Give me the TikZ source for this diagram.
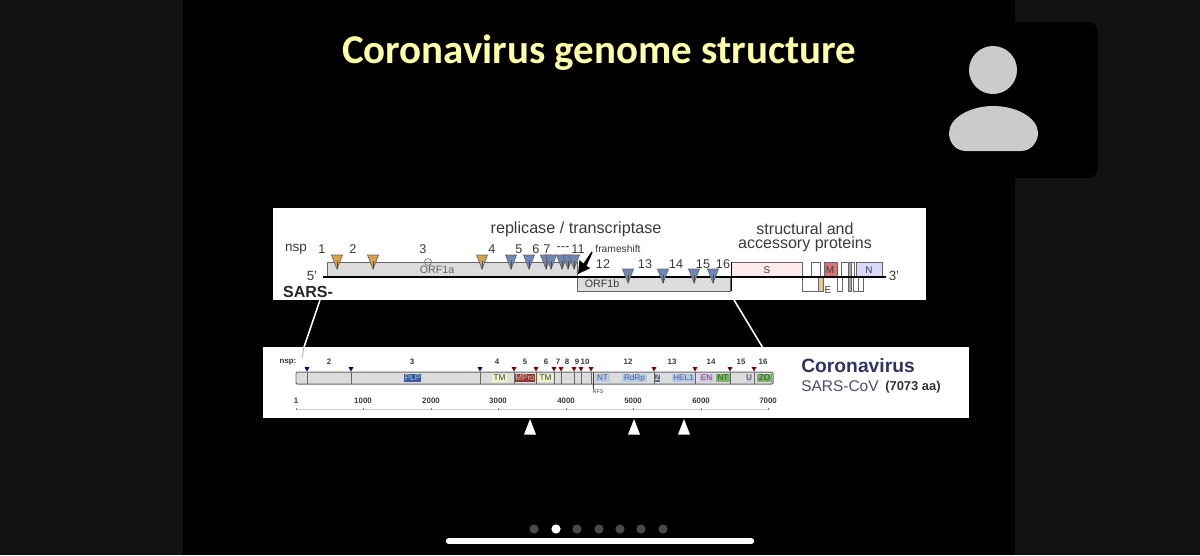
\documentclass[tikz,border=0pt]{standalone}
\usepackage{fontspec}
\setmainfont{Liberation Sans}
\newfontfamily\titlefont{Carlito}
\newcommand\fs[1]{\fontsize{#1}{#1}\selectfont}
\definecolor{bandc}{HTML}{111111}
\definecolor{inkc}{HTML}{3A3A3A}
\definecolor{orfc}{HTML}{DCDCDC}
\definecolor{edgec}{HTML}{666666}
\definecolor{orangec}{HTML}{D9A04A}
\definecolor{bluec}{HTML}{6F86B8}
\definecolor{titlec}{HTML}{FFFFA6}
\definecolor{avatarc}{HTML}{CBCBCB}
\definecolor{dotc}{HTML}{4A4A4A}
\definecolor{navyd}{HTML}{3A5A9A}
\definecolor{paled}{HTML}{B9CAE4}
\definecolor{paletxt}{HTML}{3E5E96}
\definecolor{creamd}{HTML}{F2F2C8}
\definecolor{redd}{HTML}{8C3A30}
\definecolor{redt}{HTML}{E8B8B0}
\definecolor{lilacd}{HTML}{D8C4E0}
\definecolor{lilact}{HTML}{6A3A80}
\definecolor{greend}{HTML}{7DB368}
\definecolor{greent}{HTML}{1F5A1F}
\definecolor{ud}{HTML}{C4CCDC}
\definecolor{zd}{HTML}{5A6A8A}
\tikzset{
  lbl/.style={inner sep=0pt,text=inkc,font=\fs{9}},
  lblb/.style={inner sep=0pt,text=inkc,font=\fs{5.6}\bfseries},
  gbox/.style={draw=edgec,line width=0.7pt},
  dom/.style={inner sep=0pt,font=\fs{5.8},minimum height=5.7pt,anchor=center},
  tri/.style={line width=0.5pt},
}
\begin{document}
\begin{tikzpicture}[x=0.025cm,y=-0.025cm]
\useasboundingbox (0,0) rectangle (1200,555);
% backdrop
\fill[bandc] (0,0) rectangle (1200,555);
\fill[black] (183,0) rectangle (1015,555);
\fill[black,rounded corners=0.25cm] (1000,22) rectangle (1098,178);
% title
\node[inner sep=0pt,anchor=base,text=titlec,font=\titlefont\fs{29.1}\bfseries] (title) at (599,63) {Coronavirus genome structure};
% avatar
\fill[avatarc] (993,70) circle (24);
\fill[avatarc] (966,151) .. controls (955,151) and (949,142) .. (949,133)
  .. controls (949,118) and (970,106) .. (993,106)
  .. controls (1017,106) and (1038,118) .. (1038,133)
  .. controls (1038,142) and (1031,151) .. (1021,151) -- cycle;
% panels
\fill[white] (273,208) rectangle (926,300);
\fill[white] (263,347) rectangle (969,418);
% connectors between panels
\coordinate (zoomAtop) at (320,300);
\coordinate (zoomAbot) at (304,347);
\coordinate (zoomBtop) at (734,300);
\coordinate (zoomBbot) at (763,348);
\draw[white,line width=1.1pt] (zoomAtop) -- (zoomAbot);
\draw[white,line width=1.1pt] (zoomBtop) -- (zoomBbot);
\draw[gray!60,line width=0.6pt] (zoomAbot) -- (302,358);
% === top panel ===
\node[inner sep=0pt,text=inkc,font=\fs{11.5}] (rep) at (576,229) {replicase / transcriptase};
\node[inner sep=0pt,anchor=base,text=inkc,font=\fs{11.4}] (st1) at (805,234) {structural and};
\node[inner sep=0pt,anchor=base,text=inkc,font=\fs{11.4}] (st2) at (805,248) {accessory proteins};
\filldraw[fill=orfc,gbox] (327,277) -- (327,262) -- (577,262) -- (577,277);
\filldraw[fill=orfc,gbox] (577,277) rectangle (730,291);
\filldraw[fill=red!8!white,gbox] (731,262) rectangle (802,277);
\draw[black,line width=0.7pt] (731,262) -- (731,291);
\draw[gbox,fill=white] (802,277) rectangle (818,291);
\draw[gbox,fill=orangec!60!white] (818,277) rectangle (823,291);
\draw[gbox,fill=white] (811,262) rectangle (820,277);
\draw[gbox,fill=red!55!gray!70!white] (824,262) rectangle (837,277);
\draw[gbox,fill=white] (837,277) rectangle (842,291);
\draw[gbox,fill=white] (841,262) rectangle (848,277);
\draw[gbox,fill=gray!70!white] (848,262) rectangle (851,291);
\draw[gbox,fill=white] (851,262) rectangle (854,277);
\draw[gbox,fill=white] (853,277) rectangle (858,291);
\draw[gbox,fill=white] (858,277) rectangle (863,291);
\draw[gbox,fill=blue!15!white] (856,262) rectangle (882,277);
\coordinate (geneL) at (323,277);
\coordinate (geneR) at (886,277);
\draw[black,line width=1.3pt] (geneL) -- (geneR);
\foreach \x in {337,373,482} {
  \filldraw[fill=orangec,draw=edgec,tri] (\x-5.5,255) -- (\x+5.5,255) -- (\x,269) -- cycle;
  \draw[black!70,line width=0.5pt] (\x,261) -- (\x,269);
}
\foreach \x in {511,529,546,551,562,568,574} {
  \filldraw[fill=bluec,draw=edgec,tri] (\x-5.5,255) -- (\x+5.5,255) -- (\x,269) -- cycle;
  \draw[black!70,line width=0.5pt] (\x,261) -- (\x,269);
}
\foreach \x in {628,663,694,713} {
  \filldraw[fill=bluec,draw=edgec,tri] (\x-5.5,269) -- (\x+5.5,269) -- (\x,283) -- cycle;
  \draw[black!70,line width=0.5pt] (\x,275) -- (\x,283);
}
\foreach \n/\x/\t in {tA/322/1,tB/353/2,tC/423/3,tD/492/4,tE/519/5,tF/536/6,tG/547/7,tH/563/-{}-{}-,tI/578/11}
  \node[lbl] (\n) at (\x,249) {\t};
\node[lbl,font=\fs{9.6}] (tnsp) at (296,249) {nsp};
\foreach \n/\x/\t in {tL/603/12,tM/645/13,tN/676/14,tO/703/15,tP/723/16}
  \node[lbl] (\n) at (\x,264) {\t};
\node[lbl,font=\fs{7.3}] (frame) at (618,249) {frameshift};
\coordinate (fsA) at (592,252);
\coordinate (fsB) at (578,274);
\fill[black] (fsB) -- (579.5,260) -- (583.5,263.5) -- (591.5,251.5) -- (592.7,252.2) -- (586.5,266) -- (590.5,268) -- cycle;
\node[lbl,font=\fs{7.6},text=edgec] (orfa) at (437,270) {ORF1a};
\node[lbl,font=\fs{7.6}] (orfb) at (602,284) {ORF1b};
\node[lbl,font=\fs{7}] (sname) at (767,270) {S};
\node[lbl,font=\fs{7}] (mname) at (830,270) {M};
\node[lbl,font=\fs{7}] (nname) at (869,270) {N};
\node[lbl,font=\fs{7}] (ename) at (828,290) {E};
\node[lbl,font=\fs{9.5}] (five) at (312,276) {5'};
\node[lbl,font=\fs{9.5}] (three) at (894,276) {3'};
\node[inner sep=0pt,text=black!85,font=\fs{11.4}\bfseries] (sars) at (308,292) {SARS-};
\draw[edgec,line width=0.4pt] (428,262) circle (3.5);
% === bottom panel ===
\filldraw[fill=orfc,draw=edgec,line width=0.7pt,rounded corners=0.03cm] (296,372) rectangle (773,384);
\foreach \x in {307,351,480} {
  \draw[edgec,line width=0.6pt] (\x,372) -- (\x,384);
  \fill[blue!45!black] (\x-2.5,367) -- (\x+2.5,367) -- (\x,371.5) -- cycle;
}
\foreach \x in {514,536,554,561,574,581,591,654,695,730,754} {
  \draw[edgec,line width=0.6pt] (\x,372) -- (\x,384);
  \fill[red!50!black] (\x-2.5,367) -- (\x+2.5,367) -- (\x,371.5) -- cycle;
}
\draw[black!75,line width=0.7pt] (593,372) -- (593,389);
\node[inner sep=0pt,text=inkc,font=\fs{3.8}] (rfs) at (598,392) {RFS};
\foreach \n/\xa/\xb/\t/\fc/\tc in {
  dPLP/404/421/PLP/navyd/paled,
  dTMa/492/507/TM/creamd/inkc,
  dMP/516/534/MPro/redd/redt,
  dTMb/538/553/TM/creamd/inkc,
  dNT/595/610/NT/paled/paletxt,
  dRd/622/647/RdRp/paled/paletxt,
  dZ/655/660/Z/zd/white,
  dHE/672/695/HEL1/paled/paletxt,
  dEN/699/714/EN/lilacd/lilact,
  dNTb/716/730/NT/greend/greent,
  dU/746/752/U/ud/inkc,
  dZO/757/772/ZO/greend/greent}
  \node[dom,fill=\fc,text=\tc,minimum width=(\xb-\xa)*0.025cm] (\n) at ({(\xa+\xb)/2},378) {\t};
\node[lblb] (bnsp) at (288,362) {nsp:};
\foreach \n/\x/\t in {bB/329/2,bC/412/3,bD/497/4,bE/525/5,bF/546/6,bG/558/7,bH/567/8,bI/577/9,bJ/585/10,bL/628/12,bM/672/13,bN/711/14,bO/741/15,bP/763/16}
  \node[lblb] (\n) at (\x,362) {\t};
\coordinate (scaleL) at (296,409);
\coordinate (scaleR) at (770,409);
\draw[gray!35,line width=0.5pt] (scaleL) -- (scaleR);
\foreach \n/\x/\t in {sA/296/1,sB/363/1000,sC/431/2000,sD/498/3000,sE/566/4000,sF/633/5000,sG/701/6000,sH/768/7000} {
  \draw[gray,line width=0.4pt] (\x,407.5) -- (\x,409.5);
  \node[lblb] (\n) at (\x,401) {\t};
}
\node[inner sep=0pt,anchor=west,text=blue!25!black!80,font=\fs{13.7}\bfseries] (cv) at (801,366) {Coronavirus};
\node[inner sep=0pt,anchor=west,text=blue!20!black!70,font=\fs{11}] (sc) at (801,386) {SARS-CoV};
\node[inner sep=0pt,anchor=west,text=black!80,font=\fs{9.2}\bfseries] (aa) at (885,387) {(7073 aa)};
\foreach \x in {530,634,684}
  \fill[white] (\x-6,434.5) -- (\x+6,434.5) -- (\x,419) -- cycle;
% pager
\foreach \x in {534,577,599,620,641,663}
  \fill[dotc] (\x,529) circle (4.6);
\fill[white] (556,529) circle (4.6);
\draw[white,line width=4.6pt,line cap=round] (449,541) -- (751,541);
\end{tikzpicture}
\end{document}
